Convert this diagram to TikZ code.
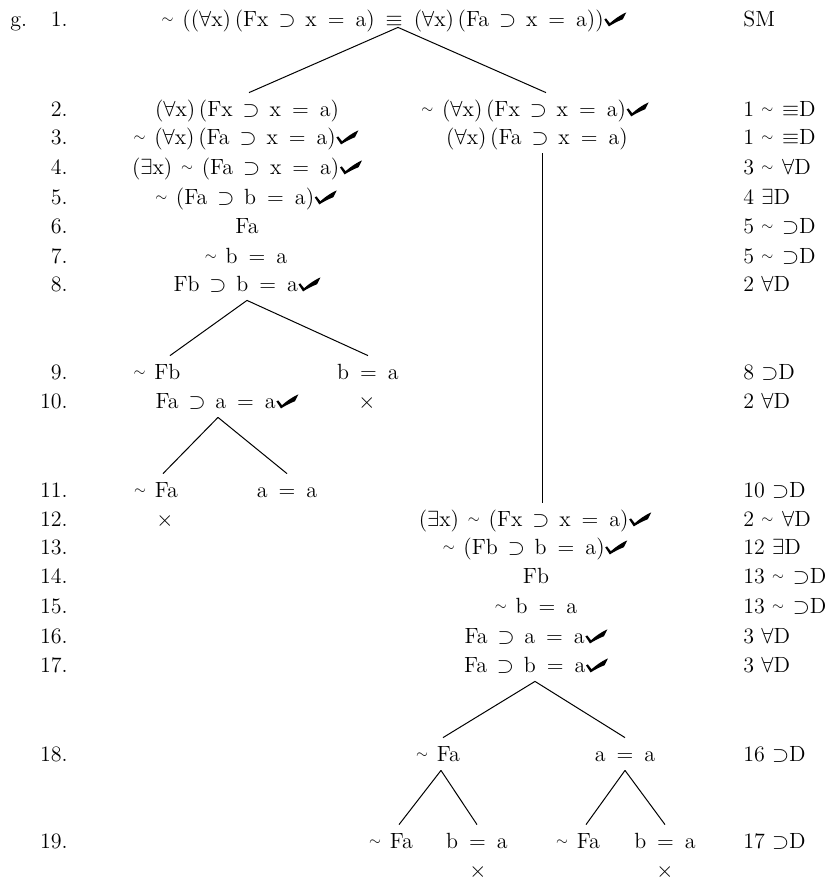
\documentclass[tikz,border=0pt]{standalone}
\usepackage{amsmath}
\usepackage{amssymb}
\usepackage{graphicx}
\usepackage{tikz}
\newcommand{\trneg}{\raisebox{1.2pt}{\scalebox{.7}{$\sim$}}\hspace{.4em}}
\newcommand{\trimp}{\hspace{.45em}$\supset$\hspace{.45em}}
\newcommand{\treq}{\hspace{.5em}=\hspace{.5em}}
\newcommand{\trequiv}{\hspace{.5em}$\equiv$\hspace{.5em}}
\newcommand{\trall}{($\forall$x)\,}
\newcommand{\trex}{($\exists$x)}
\newcommand{\trchk}{\hspace{.3pt}\tikz[baseline=0pt,x=1pt,y=1pt]\fill (0,3.3) -- (0.9,3.8) -- (2.8,1.4) .. controls (5,3.3) and (7.4,5.2) .. (11,6.8) -- (9.3,3.4) .. controls (6.8,2.4) and (4.5,1.2) .. (2.3,-0.2) -- cycle;}

\begin{document}
\begin{tikzpicture}[x=0.5pt, y=-0.5pt,
  every node/.style={font=\fontsize{11}{13}\selectfont},
  fml/.style={anchor=base, inner sep=0.5pt, text height=11pt, text depth=4pt},
  num/.style={anchor=base east, inner sep=0pt},
  rule/.style={anchor=base west, inner sep=0pt},
  branch/.style={line width=0.5pt}]
  \useasboundingbox (0,0) rectangle (836,889);

  % --- Trunk: lines 1-3 ---
  \node[fml] (n1) at (394,26) {\trneg(\trall(Fx\trimp x\treq a)\trequiv\trall(Fa\trimp x\treq a))\trchk};
  \node[fml] (n2a) at (247,116) {\trall(Fx\trimp x\treq a)};
  \node[fml] (n2b) at (535,116) {\trneg\trall(Fx\trimp x\treq a)\trchk};
  \node[fml] (n3a) at (246,144) {\trneg\trall(Fa\trimp x\treq a)\trchk};
  \node[fml] (n3b) at (537,144) {\trall(Fa\trimp x\treq a)};
  \draw[branch] ([xshift=2pt,yshift=4pt]n1.south) -- ([xshift=1pt]n2a.north);
  \draw[branch] ([xshift=2pt,yshift=4pt]n1.south) -- ([xshift=5.5pt]n2b.north);

  % --- Left branch ---
  \node[fml] (n4) at (247,174) {\trex\hspace{.4em}\trneg(Fa\trimp x\treq a)\trchk};
  \node[fml] (n5) at (246,204) {\trneg(Fa\trimp b\treq a)\trchk};
  \node[fml] (n6) at (247,233) {Fa};
  \node[fml] (n7) at (246,263) {\trneg b\treq a};
  \node[fml] (n8) at (247,291) {Fb\trimp b\treq a\trchk};
  \node[fml] (n9a) at (157,379) {\trneg Fb};
  \node[fml] (n9b) at (368,379) {b\treq a};
  \draw[branch] (n8.south) -- ([xshift=6.5pt]n9a.north);
  \draw[branch] (n8.south) -- (n9b.north);
  \node[fml] (n10a) at (227,408) {Fa\trimp a\treq a\trchk};
  \node[fml] (n10b) at (367,408) {$\times$};
  \node[fml] (n11a) at (156,497) {\trneg Fa};
  \node[fml] (n11b) at (287,497) {a\treq a};
  \draw[branch] ([xshift=-4.5pt]n10a.south) -- ([xshift=3.5pt]n11a.north);
  \draw[branch] ([xshift=-4.5pt]n10a.south) -- (n11b.north);
  \node[fml] (n12a) at (165,526) {$\times$};

  % --- Right branch ---
  \node[fml] (n12b) at (535,526) {\trex\hspace{.4em}\trneg(Fx\trimp x\treq a)\trchk};
  \draw[branch] ([xshift=2.5pt]n3b.south) -- ([xshift=2.5pt]n3b.south |- n12b.north);
  \node[fml] (n13) at (535,554) {\trneg(Fb\trimp b\treq a)\trchk};
  \node[fml] (n14) at (536,583) {Fb};
  \node[fml] (n15) at (536,613) {\trneg b\treq a};
  \node[fml] (n16) at (536,643) {Fa\trimp a\treq a\trchk};
  \node[fml] (n17) at (536,672) {Fa\trimp b\treq a\trchk};
  \node[fml] (n18a) at (438,761) {\trneg Fa};
  \node[fml] (n18b) at (625,761) {a\treq a};
  \draw[branch] ([xshift=-0.5pt]n17.south) -- ([xshift=2.5pt]n18a.north);
  \draw[branch] ([xshift=-0.5pt]n17.south) -- (n18b.north);
  \node[fml] (n19a) at (391,848) {\trneg Fa};
  \node[fml] (n19b) at (477,848) {b\treq a};
  \node[fml] (n19c) at (578,848) {\trneg Fa};
  \node[fml] (n19d) at (665,848) {b\treq a};
  \draw[branch] ([xshift=1.5pt]n18a.south) -- ([xshift=4pt]n19a.north);
  \draw[branch] ([xshift=1.5pt]n18a.south) -- (n19b.north);
  \draw[branch] (n18b.south) -- ([xshift=4pt]n19c.north);
  \draw[branch] (n18b.south) -- (n19d.north);
  \node[fml] (x19b) at (478,877) {$\times$};
  \node[fml] (x19d) at (665,877) {$\times$};

  % Line numbers
  \node[rule] (tag) at (10,26) {g.};
  \node[num] (num1) at (68,26) {1.};
  \node[num] (num2) at (68,116) {2.};
  \node[num] (num3) at (68,144) {3.};
  \node[num] (num4) at (68,174) {4.};
  \node[num] (num5) at (68,204) {5.};
  \node[num] (num6) at (68,233) {6.};
  \node[num] (num7) at (68,263) {7.};
  \node[num] (num8) at (68,291) {8.};
  \node[num] (num9) at (68,379) {9.};
  \node[num] (num10) at (68,408) {10.};
  \node[num] (num11) at (68,497) {11.};
  \node[num] (num12) at (68,526) {12.};
  \node[num] (num13) at (68,554) {13.};
  \node[num] (num14) at (68,583) {14.};
  \node[num] (num15) at (68,613) {15.};
  \node[num] (num16) at (68,643) {16.};
  \node[num] (num17) at (68,672) {17.};
  \node[num] (num18) at (68,761) {18.};
  \node[num] (num19) at (68,848) {19.};

  % Justifications
  \node[rule] (why1) at (743,26) {SM};
  \node[rule] (why2) at (743,116) {1 \trneg$\equiv$D};
  \node[rule] (why3) at (743,144) {1 \trneg$\equiv$D};
  \node[rule] (why4) at (743,174) {3 \trneg$\forall$D};
  \node[rule] (why5) at (743,204) {4 $\exists$D};
  \node[rule] (why6) at (743,233) {5 \trneg$\supset$D};
  \node[rule] (why7) at (743,263) {5 \trneg$\supset$D};
  \node[rule] (why8) at (743,291) {2 $\forall$D};
  \node[rule] (why9) at (743,379) {8 $\supset$D};
  \node[rule] (why10) at (743,408) {2 $\forall$D};
  \node[rule] (why11) at (743,497) {10 $\supset$D};
  \node[rule] (why12) at (743,526) {2 \trneg$\forall$D};
  \node[rule] (why13) at (743,554) {12 $\exists$D};
  \node[rule] (why14) at (743,583) {13 \trneg$\supset$D};
  \node[rule] (why15) at (743,613) {13 \trneg$\supset$D};
  \node[rule] (why16) at (743,643) {3 $\forall$D};
  \node[rule] (why17) at (743,672) {3 $\forall$D};
  \node[rule] (why18) at (743,761) {16 $\supset$D};
  \node[rule] (why19) at (743,848) {17 $\supset$D};
\end{tikzpicture}
\end{document}
